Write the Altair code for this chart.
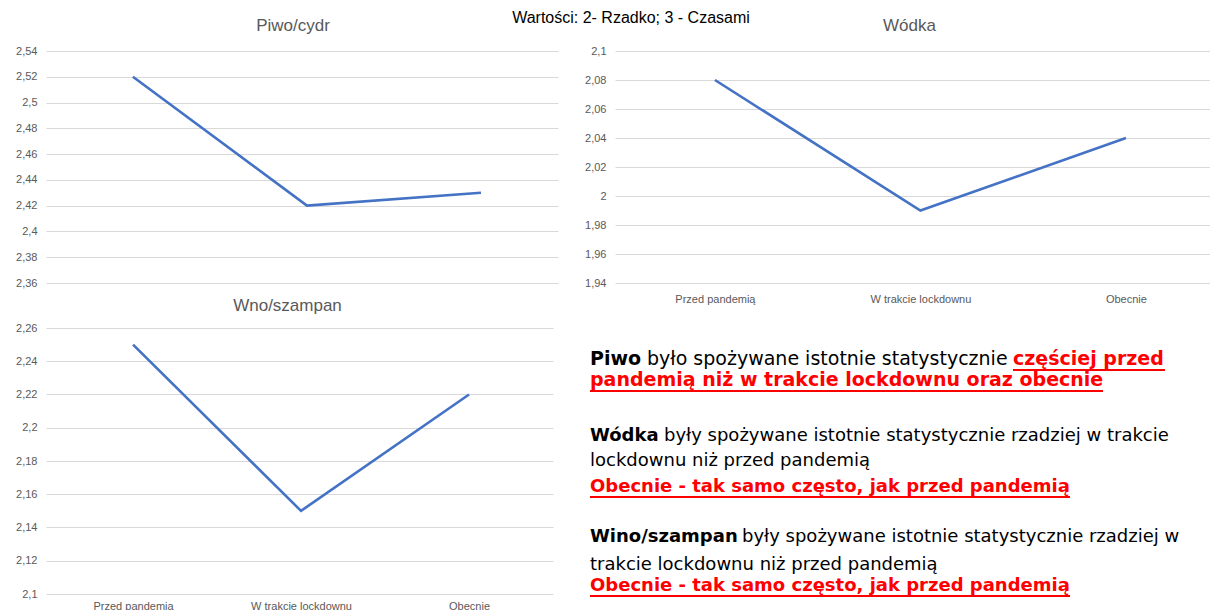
import altair as alt
import pandas as pd

# ---------------- data ----------------
categories = ["Przed pandemią", "W trakcie lockdownu", "Obecnie"]
piwo_values = [2.52, 2.42, 2.43]
wodka_values = [2.08, 1.99, 2.04]
wino_values = [2.25, 2.15, 2.22]

piwo_ticks = [2.36, 2.38, 2.40, 2.42, 2.44, 2.46, 2.48, 2.50, 2.52, 2.54]
wodka_ticks = [1.94, 1.96, 1.98, 2.00, 2.02, 2.04, 2.06, 2.08, 2.10]
wino_ticks = [2.10, 2.12, 2.14, 2.16, 2.18, 2.20, 2.22, 2.24, 2.26]

titles = ["Piwo/cydr", "Wódka", "Wno/szampan"]
main_note = "Wartości: 2- Rzadko; 3 - Czasami"

# ---------------- style ----------------
BLUE = "#4472C4"
GRAY = "#595959"
GRID = "#d9d9d9"
RED = "#FF0000"
FONT = "Liberation Sans"
TFONT = "DejaVu Sans"
LABEL_EXPR = "replace(format(datum.value, '.2~f'), '.', ',')"

# origin of the text panel in page coordinates (used to place annotation text)
TX0, TY0 = 616, 329


def frame(values):
    return pd.DataFrame({"kategoria": categories, "wartosc": values})


def line_chart(values, ticks, pad, align, show_x, x_label_pad):
    if show_x:
        x_axis = alt.Axis(title=None, labelAngle=0, labelFontSize=11, labelColor=GRAY,
                          labelFont=FONT, ticks=False, domain=False, grid=False,
                          labelPadding=x_label_pad)
    else:
        x_axis = None
    return alt.Chart(frame(values)).mark_line(color=BLUE, strokeWidth=2.6).encode(
        x=alt.X("kategoria:N", sort=categories,
                scale=alt.Scale(type="point", padding=pad, align=align), axis=x_axis),
        y=alt.Y("wartosc:Q",
                scale=alt.Scale(domain=[ticks[0], ticks[-1]], nice=False, zero=False),
                axis=alt.Axis(title=None, values=ticks, labelExpr=LABEL_EXPR,
                              labelFontSize=11, labelColor=GRAY, labelFont=FONT,
                              ticks=False, domain=False, grid=True, gridColor=GRID,
                              gridWidth=1, labelPadding=9)),
    )


def title_params(text, dx, offset):
    return alt.TitleParams(text, fontSize=17, fontWeight="normal", color=GRAY, font=FONT,
                           anchor="middle", dx=dx, offset=offset)


def text_seg(txt, px, py, size, bold=False, color="black", font=TFONT, baseline="alphabetic",
             align="left"):
    return alt.Chart(pd.DataFrame({"t": [txt]})).mark_text(
        align=align, baseline=baseline, font=font, fontSize=size,
        fontWeight="bold" if bold else "normal", color=color,
    ).encode(text="t:N", x=alt.value(px - TX0), y=alt.value(py - TY0))


def underline(px1, px2, py):
    return alt.Chart(pd.DataFrame({"u": [0]})).mark_rule(color=RED, strokeWidth=2).encode(
        x=alt.value(px1 - TX0), x2=alt.value(px2 - TX0), y=alt.value(py - TY0))


piwo = line_chart(piwo_values, piwo_ticks, 0.471, 0.53, False, 0).properties(
    width=512, height=232, title=title_params(titles[0], -9, 10))

wodka = line_chart(wodka_values, wodka_ticks, 0.4477, 0.543, True, 10).properties(
    width=595, height=232, title=title_params(titles[1], -3, 10))

wino = line_chart(wino_values, wino_ticks, 0.509, 0.509, True, 6).properties(
    width=507, height=266, title=title_params(titles[2], -12, 7))

texts = [
    text_seg(main_note, 632, 19, 16, font=FONT, baseline="middle", align="center"),
    text_seg("Piwo", 591, 366, 19, bold=True),
    text_seg("było spożywane istotnie statystycznie", 648, 366, 19),
    text_seg("częściej przed", 1014, 366, 19, bold=True, color=RED),
    underline(1014, 1166, 371),
    text_seg("pandemią niż w trakcie lockdownu oraz obecnie", 591, 387, 19, bold=True, color=RED),
    underline(591, 1104, 392),
    text_seg("Wódka", 591, 442, 18, bold=True),
    text_seg("były spożywane istotnie statystycznie rzadziej w trakcie", 665, 442, 18),
    text_seg("lockdownu niż przed pandemią", 591, 467, 18),
    text_seg("Obecnie - tak samo często, jak przed pandemią", 591, 493, 18, bold=True, color=RED),
    underline(591, 1071, 498),
    text_seg("Wino/szampan", 591, 543, 18, bold=True),
    text_seg("były spożywane istotnie statystycznie rzadziej w", 743, 543, 18),
    text_seg("trakcie lockdownu niż przed pandemią", 591, 571, 18),
    text_seg("Obecnie - tak samo często, jak przed pandemią", 591, 592, 18, bold=True, color=RED),
    underline(591, 1071, 597),
]
panel = alt.layer(*texts).properties(width=595, height=266)

chart = alt.concat(
    piwo, wodka, wino, panel, columns=2, bounds="flush", align="each",
    spacing={"row": 45, "column": 57},
).properties(
    padding={"left": 7, "top": 2, "right": 0, "bottom": -1},
    background="white",
).configure_view(stroke=None)

chart.save("out.html", embed_options={"renderer": "svg", "actions": False})
